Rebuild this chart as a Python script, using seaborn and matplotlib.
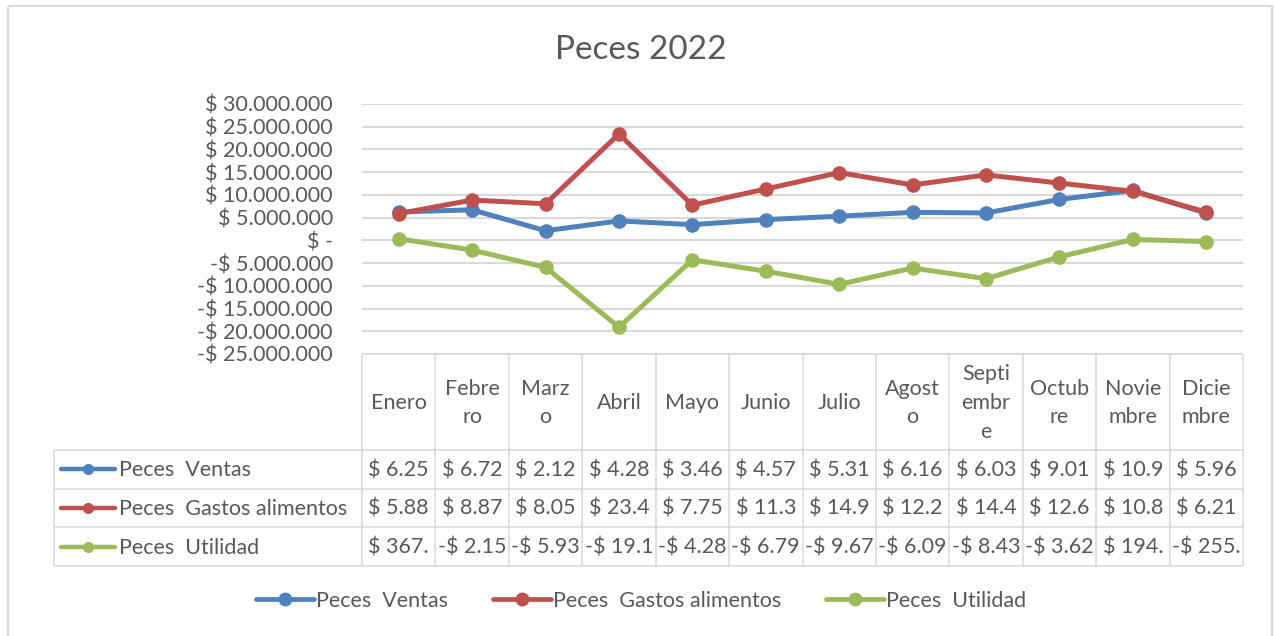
import numpy as np
import pandas as pd
import matplotlib
matplotlib.use("Agg")
import matplotlib.pyplot as plt
from matplotlib.lines import Line2D
from matplotlib.patches import Rectangle
from matplotlib.ticker import FuncFormatter, MultipleLocator
import seaborn as sns

# ---------------- data ----------------
title = "Peces 2022"
months = ["Enero", "Febre\nro", "Marz\no", "Abril", "Mayo", "Junio", "Julio",
          "Agost\no", "Septi\nembr\ne", "Octub\nre", "Novie\nmbre", "Dicie\nmbre"]
series_names = ["Peces  Ventas", "Peces  Gastos alimentos", "Peces  Utilidad"]
ventas = [6250000, 6720000, 2120000, 4280000, 3460000, 4570000,
          5310000, 6160000, 6030000, 9010000, 10990000, 5960000]
gastos = [5880000, 8870000, 8050000, 23400000, 7750000, 11300000,
          14900000, 12200000, 14400000, 12600000, 10800000, 6210000]
utilidad = [367000, -2150000, -5930000, -19100000, -4280000, -6790000,
            -9670000, -6090000, -8430000, -3620000, 194000, -255000]
colors = ["#4F81BD", "#C0504D", "#9BBB59"]

TXT = "#595959"
GRID = "#D9D9D9"
FS = 15.5

sns.set_style("white")
plt.rcParams["font.family"] = ["Lato", "DejaVu Sans"]

W, H = 1274, 636
fig = plt.figure(figsize=(W / 100, H / 100), dpi=100)

# layout in pixels
L, R = 362, 1243
TOP_PLOT, BOT_PLOT = 104, 354
ax = fig.add_axes([L / W, 1 - BOT_PLOT / H, (R - L) / W, (BOT_PLOT - TOP_PLOT) / H], zorder=2)
ax.patch.set_alpha(0)

records = []
for name, vals in zip(series_names, [ventas, gastos, utilidad]):
    for i, v in enumerate(vals):
        records.append({"mes": i, "valor": v, "serie": name})
df = pd.DataFrame(records)

sns.lineplot(data=df, x="mes", y="valor", hue="serie", hue_order=series_names,
             palette=colors, marker="o", markersize=10.5, markeredgewidth=0,
             linewidth=3.6, legend=False, ax=ax)

ax.set_xlim(-0.5, 11.5)
ax.set_ylim(-25e6, 30e6)
ax.yaxis.set_major_locator(MultipleLocator(5e6))


def yfmt(v, pos):
    if abs(v) < 1:
        return "$ -"
    s = f"{abs(int(round(v))):,}".replace(",", ".")
    return ("-$ " if v < 0 else "$ ") + s


ax.yaxis.set_major_formatter(FuncFormatter(yfmt))
ax.set_xticks([])
ax.set_xlabel("")
ax.set_ylabel("")
ax.grid(axis="y", color=GRID, linewidth=1.5)
ax.set_axisbelow(True)
for s in ax.spines.values():
    s.set_visible(False)
ax.tick_params(axis="y", length=0, pad=21, labelsize=FS, labelcolor=TXT)

# ---------------- overlay for table, frame ----------------
ov = fig.add_axes([0, 0, 1, 1], zorder=1)
ov.set_xlim(0, W)
ov.set_ylim(H, 0)
ov.axis("off")

ov.add_patch(Rectangle((8, 6), 1264, 660, fill=False, ec=GRID, lw=1.5))

colw = (R - L) / 12
HB = 450
ROWH = 38.6
TLEFT = 54
row_tops = [HB + k * ROWH for k in range(4)]
BOT = row_tops[-1]

lkw = dict(color=GRID, lw=1.1, solid_capstyle="butt")
ov.plot([L, R], [BOT_PLOT, BOT_PLOT], **lkw)
for y in row_tops:
    ov.plot([TLEFT, R], [y, y], **lkw)
ov.plot([TLEFT, TLEFT], [HB, BOT], **lkw)
for k in range(13):
    x = L + k * colw
    ov.plot([x, x], [BOT_PLOT, BOT], **lkw)

for i, m in enumerate(months):
    ov.text(L + (i + 0.5) * colw, (BOT_PLOT + HB) / 2 + 1, m, ha="center", va="center",
            fontsize=FS, color=TXT, linespacing=1.55)


def cell(v):
    s = f"{abs(int(v)):,}".replace(",", ".")[:4]
    return ("-$ " if v < 0 else "$ ") + s


for r, (name, vals, c) in enumerate(zip(series_names, [ventas, gastos, utilidad], colors)):
    yc = row_tops[r] + ROWH / 2
    ov.plot([61, 115], [yc, yc], color=c, lw=3.2, solid_capstyle="round")
    ov.plot([88], [yc], marker="o", color=c, markersize=8, markeredgewidth=0)
    ov.text(119, yc + 1, name, ha="left", va="center", fontsize=FS, color=TXT)
    for i, v in enumerate(vals):
        ov.text(L + (i + 0.5) * colw, yc + 1, cell(v), ha="center", va="center",
                fontsize=FS, color=TXT)

fig.text(641 / W, 1 - 50 / H, title, ha="center", va="center", fontsize=24, color=TXT)

handles = [Line2D([], [], color=c, lw=3.4, marker="o", markersize=10, markeredgewidth=0,
                  solid_capstyle="round") for c in colors]
fig.legend(handles, series_names, loc="center", bbox_to_anchor=(641 / W, 1 - 601 / H),
           ncol=3, frameon=False, fontsize=FS, labelcolor=TXT, handlelength=2.7,
           handletextpad=0.08, columnspacing=2.1)

fig.savefig("out.png", dpi=100, facecolor="white")
